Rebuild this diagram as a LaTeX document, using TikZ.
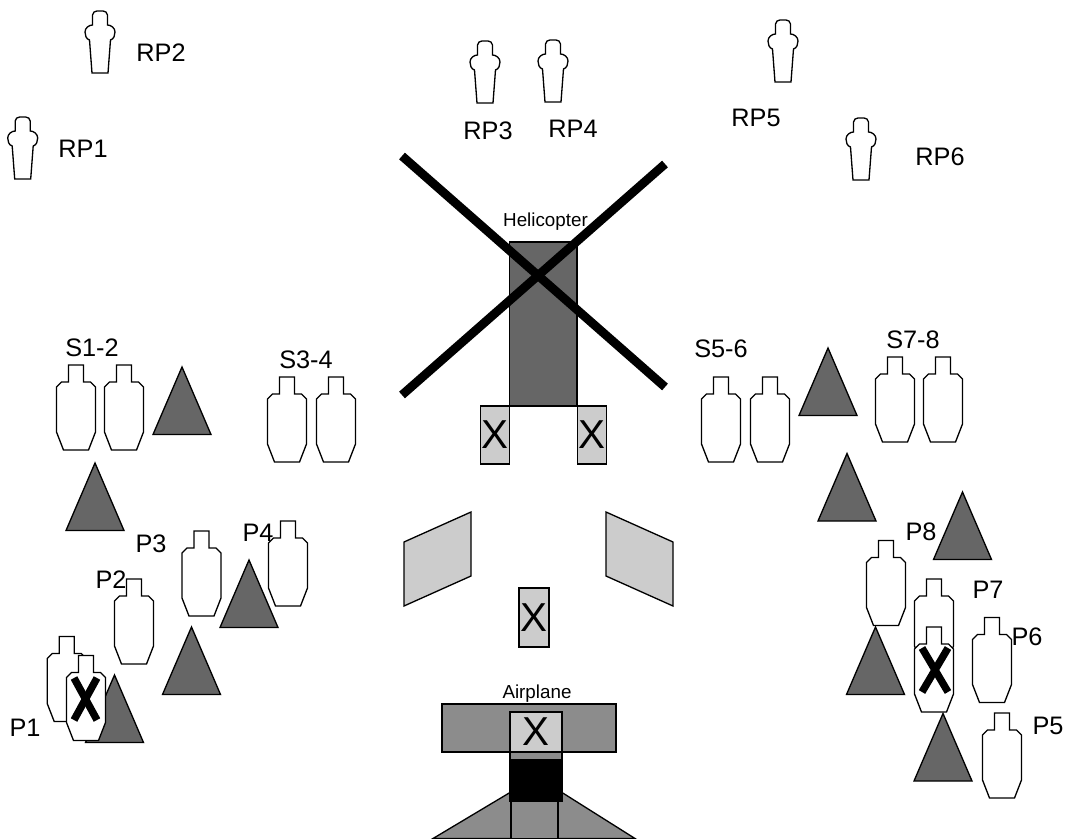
\documentclass[tikz,border=0pt]{standalone}
\usepackage{fontspec}
\setmainfont{Liberation Sans}
\definecolor{mydark}{gray}{.4}
\definecolor{mymid}{gray}{.55}
\definecolor{mylight}{gray}{.8}
\tikzstyle{outline} = [draw=black,line width=0.75pt]
\tikzstyle{panel} = [outline,fill=mylight]
\tikzstyle{hit} = [line width=4.2pt]
\tikzstyle{big} = [font=\fontsize{14.4}{14.4}\selectfont,inner sep=0pt]
\tikzstyle{small} = [font=\fontsize{10.7}{11}\selectfont,inner sep=0pt]
\tikzstyle{mark x} = [font=\fontsize{23}{23}\selectfont,inner sep=0pt]
\tikzset{
  bodyshape/.pic={
    \draw [outline,fill=white] (-7.5,0) -- (7.5,0) -- (7.5,17) -- (14.5,17) -- (19.5,22) -- (19.5,67)
      -- (12.5,85) -- (-12.5,85) -- (-19.5,67) -- (-19.5,22) -- (-14.5,17) -- (-7.5,17) -- cycle;
  },
  cone/.pic={
    \draw [outline,fill=mydark] (0,0) -- (29,67.5) -- (-29,67.5) -- cycle;
  },
  figure/.pic={
    \draw [outline,fill=white] (-8,62) -- (8,62) -- (10.5,29)
      .. controls (14,28) and (15,24) .. (15,21) .. controls (15,17) and (11,14) .. (7.5,14)
      -- (7.5,4) .. controls (7.5,1.5) and (5,0) .. (3,0) -- (-3,0) .. controls (-5,0) and (-7.5,1.5) .. (-7.5,4)
      -- (-7.5,14) .. controls (-11,14) and (-15,17) .. (-15,21) .. controls (-15,24) and (-14,28) .. (-10.5,29) -- cycle;
  }
}

\begin{document}
\begin{tikzpicture}[x=0.02cm,y=-0.02cm]
            \useasboundingbox (0,0) rectangle (1066,839);
            % cones
            \pic (coneA) at (182,367) {cone};
            \pic (coneB) at (95,463) {cone};
            \pic (coneC) at (249,560) {cone};
            \pic (coneD) at (191.5,627) {cone};
            \pic (coneE) at (114.5,675) {cone};
            \pic (coneF) at (828,348) {cone};
            \pic (coneG) at (847,453.5) {cone};
            \pic (coneH) at (962.5,492) {cone};
            \pic (coneI) at (875.5,627) {cone};
            \pic (coneJ) at (943,713.5) {cone};
            % standing figures
            \pic (figA) at (22.7,117) {figure};
            \pic (figB) at (100,11) {figure};
            \pic (figC) at (485,41) {figure};
            \pic (figD) at (553,40) {figure};
            \pic (figE) at (783,20) {figure};
            \pic (figF) at (861,118) {figure};
            % bodies, top row
            \pic (bodyS1) at (76,365) {bodyshape};
            \pic (bodyS2) at (124,365) {bodyshape};
            \pic (bodyS3) at (287,377) {bodyshape};
            \pic (bodyS4) at (336,377) {bodyshape};
            \pic (bodyS5) at (721,377) {bodyshape};
            \pic (bodyS6) at (770,377) {bodyshape};
            \pic (bodyS7) at (895,357) {bodyshape};
            \pic (bodyS8) at (943,357) {bodyshape};
            % bodies, lower groups
            \pic (bodyP1) at (66.7,636.5) {bodyshape};
            \pic (bodyP1b) at (86,655.5) {bodyshape};
            \pic (bodyP2) at (134,579) {bodyshape};
            \pic (bodyP3) at (201.5,531) {bodyshape};
            \pic (bodyP4) at (288,521) {bodyshape};
            \pic (bodyP5) at (1002,713) {bodyshape};
            \pic (bodyP6) at (992,617.5) {bodyshape};
            \pic (bodyP7) at (934,579) {bodyshape};
            \pic (bodyP7b) at (934,627) {bodyshape};
            \pic (bodyP8) at (886,540.5) {bodyshape};
            % hits
            \draw [hit] (74,678) -- (97,720);
            \draw [hit] (97,678) -- (74,720);
            \draw [hit] (922,648) -- (948,692);
            \draw [hit] (948,648) -- (922,692);
            % helicopter
            \draw [outline,fill=mydark] (509.5,242) rectangle (577,406);
            \node [panel,minimum width=0.58cm,minimum height=1.16cm,inner sep=0pt,mark x] (skidL) at (495.3,435) {X};
            \node [panel,minimum width=0.58cm,minimum height=1.16cm,inner sep=0pt,mark x] (skidR) at (591.7,435) {X};
            \draw [line width=5pt] (402,156) -- (665,387);
            \draw [line width=5pt] (402,395) -- (665,164);
            % middle panels
            \draw [panel] (404,542) -- (471,512) -- (471,576) -- (404,606) -- cycle;
            \draw [panel] (606,512) -- (673,542) -- (673,606) -- (606,576) -- cycle;
            \node [panel,minimum width=0.6cm,minimum height=1.18cm,inner sep=0pt,mark x] (midbox) at (534,617.5) {X};
            % airplane
            \draw [outline,fill=mymid] (433,838.5) -- (510,792.5) -- (562,792.5) -- (635,838.5) -- cycle;
            \draw [outline,fill=mymid] (442,704) rectangle (616,752);
            \draw [outline,fill=mymid] (510,752) rectangle (562,760);
            \draw [outline,fill=black] (510,760) rectangle (562,801);
            \draw [outline,fill=mymid] (511,801) rectangle (558,838.5);
            \node [panel,minimum width=1.04cm,minimum height=0.8cm,inner sep=0pt,mark x] (wingbox) at (536,732) {X};
            % labels
            \node [small] (heli) at (545.5,222) {Helicopter};
            \node [small] (plane) at (537,694) {Airplane};
            \node [big] (rp1) at (83,149) {RP1};
            \node [big] (rp2) at (161,53) {RP2};
            \node [big] (rp3) at (488,131) {RP3};
            \node [big] (rp4) at (573,129) {RP4};
            \node [big] (rp5) at (756,118) {RP5};
            \node [big] (rp6) at (940,157) {RP6};
            \node [big] (s12) at (92,348) {S1-2};
            \node [big] (s34) at (306,360) {S3-4};
            \node [big] (s56) at (721,349) {S5-6};
            \node [big] (s78) at (913,340) {S7-8};
            \node [big] (p1) at (25,728) {P1};
            \node [big] (p2) at (111,580) {P2};
            \node [big] (p3) at (151,544) {P3};
            \node [big] (p4) at (258,533) {P4};
            \node [big] (p5) at (1048,726) {P5};
            \node [big] (p6) at (1027,637) {P6};
            \node [big] (p7) at (988,590) {P7};
            \node [big] (p8) at (921,532) {P8};
        \end{tikzpicture}
\end{document}
